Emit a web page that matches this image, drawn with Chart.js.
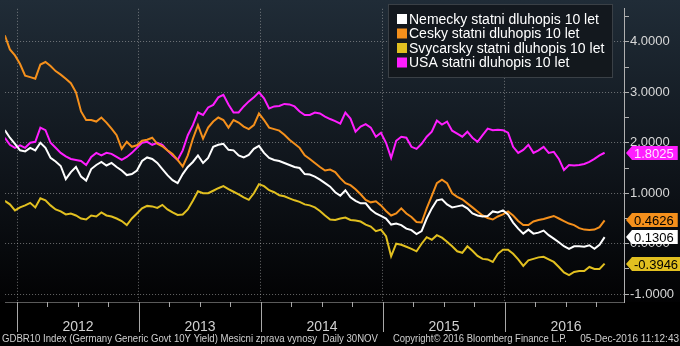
<!DOCTYPE html>
<html>
<head>
<meta charset="utf-8">
<script src="https://cdn.jsdelivr.net/npm/chart.js@4.4.0/dist/chart.umd.min.js"></script>
<style>
html, body { margin: 0; padding: 0; background: #000; }
</style>
</head>
<body>
<canvas id="yieldChart" width="680" height="346"></canvas>
<script>
// semimonthly samples, first one at mid Nov 2011
const startYear = 2011.9;
const stepYear = 1 / 24;

const yearLabels = ['2012', '2013', '2014', '2015', '2016'];
const quarterTicks = [2012, 2012.25, 2012.5, 2012.75, 2013, 2013.25, 2013.5, 2013.75,
    2014, 2014.25, 2014.5, 2014.75, 2015, 2015.25, 2015.5, 2015.75,
    2016, 2016.25, 2016.5, 2016.75];
const yTicks = [-1, -0.5, 0, 0.5, 1, 1.5, 2, 2.5, 3, 3.5, 4, 4.5];

const nemecky = [2.25, 2.10, 1.98, 1.85, 1.83, 1.90, 1.85, 2.00, 1.90, 1.70,
    1.63, 1.54, 1.28, 1.42, 1.52, 1.33, 1.25, 1.48, 1.56, 1.62,
    1.55, 1.60, 1.52, 1.45, 1.36, 1.38, 1.45, 1.64, 1.71, 1.68,
    1.60, 1.48, 1.36, 1.26, 1.20, 1.38, 1.52, 1.62, 1.75, 1.60,
    1.70, 1.92, 1.96, 1.98, 1.86, 1.85, 1.75, 1.71, 1.76, 1.88,
    1.94, 1.80, 1.70, 1.66, 1.64, 1.60, 1.56, 1.52, 1.50, 1.38,
    1.37, 1.33, 1.27, 1.20, 1.13, 1.02, 0.95, 1.06, 0.92, 0.85,
    0.80, 0.80, 0.68, 0.60, 0.55, 0.50, 0.38, 0.40, 0.37, 0.30,
    0.27, 0.19, 0.25, 0.50, 0.70, 0.86, 0.88, 0.78, 0.72, 0.74,
    0.76, 0.70, 0.60, 0.56, 0.54, 0.55, 0.64, 0.62, 0.66, 0.58,
    0.42, 0.30, 0.20, 0.28, 0.20, 0.22, 0.26, 0.17, 0.10, 0.03,
    -0.05, -0.10, -0.05, -0.05, -0.06, -0.03, -0.10, -0.02, 0.1306];

const cesky = [4.13, 3.85, 3.73, 3.56, 3.33, 3.30, 3.27, 3.55, 3.60, 3.52,
    3.42, 3.35, 3.27, 3.18, 3.00, 2.62, 2.45, 2.45, 2.42, 2.50,
    2.40, 2.28, 2.15, 1.88, 2.02, 1.92, 1.95, 2.04, 2.06, 2.10,
    1.98, 1.93, 1.85, 1.78, 1.66, 1.53, 1.75, 2.08, 2.35, 2.08,
    2.30, 2.42, 2.50, 2.45, 2.30, 2.45, 2.40, 2.32, 2.27, 2.35,
    2.58, 2.45, 2.30, 2.27, 2.24, 2.16, 2.06, 1.98, 1.90, 1.75,
    1.68, 1.60, 1.52, 1.45, 1.47, 1.42, 1.30, 1.20, 1.16, 1.08,
    0.98, 0.87, 0.82, 0.84, 0.76, 0.65, 0.56, 0.60, 0.70, 0.60,
    0.53, 0.43, 0.42, 0.70, 0.95, 1.20, 1.27, 1.20, 1.00, 0.93,
    0.88, 0.80, 0.72, 0.64, 0.56, 0.51, 0.48, 0.54, 0.58, 0.64,
    0.56, 0.45, 0.37, 0.37, 0.44, 0.47, 0.49, 0.52, 0.55, 0.50,
    0.45, 0.40, 0.37, 0.31, 0.28, 0.27, 0.28, 0.33, 0.4626];

const svycarsky = [0.85, 0.78, 0.66, 0.72, 0.76, 0.81, 0.72, 0.90, 0.86, 0.76,
    0.68, 0.64, 0.58, 0.60, 0.56, 0.50, 0.48, 0.56, 0.54, 0.62,
    0.56, 0.54, 0.50, 0.45, 0.37, 0.50, 0.60, 0.70, 0.75, 0.74,
    0.71, 0.77, 0.68, 0.62, 0.57, 0.58, 0.68, 0.85, 1.04, 1.00,
    1.00, 1.05, 1.10, 1.14, 1.08, 1.03, 0.98, 0.92, 0.87, 1.00,
    1.18, 1.14, 1.06, 1.02, 0.96, 0.94, 0.90, 0.86, 0.83, 0.78,
    0.76, 0.72, 0.65, 0.56, 0.48, 0.47, 0.50, 0.52, 0.47, 0.46,
    0.44, 0.38, 0.34, 0.25, 0.28, 0.15, -0.25, 0.00, -0.02, -0.06,
    -0.10, -0.15, 0.00, 0.13, 0.08, 0.17, 0.12, 0.04, -0.05, -0.15,
    -0.18, -0.05, -0.14, -0.24, -0.30, -0.31, -0.36, -0.20, -0.12, -0.12,
    -0.20, -0.31, -0.44, -0.33, -0.30, -0.27, -0.26, -0.31, -0.36, -0.46,
    -0.57, -0.62, -0.56, -0.54, -0.54, -0.46, -0.50, -0.50, -0.3946];

const usa = [2.10, 1.96, 1.90, 1.95, 1.90, 2.00, 2.02, 2.30, 2.25, 2.00,
    1.90, 1.80, 1.73, 1.68, 1.66, 1.64, 1.56, 1.72, 1.80, 1.75,
    1.80, 1.78, 1.72, 1.66, 1.72, 1.80, 1.90, 2.00, 2.02, 1.96,
    2.00, 1.96, 1.85, 1.75, 1.66, 1.85, 2.15, 2.35, 2.60, 2.55,
    2.70, 2.75, 2.90, 2.95, 2.76, 2.60, 2.60, 2.72, 2.82, 2.90,
    3.00, 2.88, 2.68, 2.72, 2.73, 2.77, 2.76, 2.72, 2.62, 2.55,
    2.55, 2.60, 2.58, 2.52, 2.47, 2.43, 2.38, 2.60, 2.48, 2.22,
    2.32, 2.37, 2.30, 2.12, 2.20, 2.00, 1.70, 2.04, 2.12, 2.10,
    1.92, 1.88, 1.98, 2.12, 2.22, 2.44, 2.36, 2.42, 2.24, 2.18,
    2.12, 2.22, 2.10, 2.02, 2.15, 2.28, 2.25, 2.26, 2.25, 2.20,
    1.92, 1.80, 1.86, 1.96, 1.80, 1.85, 1.92, 1.80, 1.82, 1.68,
    1.46, 1.56, 1.55, 1.56, 1.58, 1.62, 1.68, 1.75, 1.8025];

const seriesNames = ['Nemecky statni dluhopis 10 let', 'Cesky statni dluhopis 10 let',
    'Svycarsky statni dluhopis 10 let', 'USA statni dluhopis 10 let'];
const seriesColors = ['#ffffff', '#f5901c', '#e2c020', '#ff1eff'];
const tagTextColors = ['#000000', '#000000', '#000000', '#ffe6ff'];

const footLeft = 'GDBR10 Index (Germany Generic Govt 10Y Yield) Mesicni zprava vynosy  Daily 30NOV';
const footMid = 'Copyright\u00a9 2016 Bloomberg Finance L.P.';
const footRight = '05-Dec-2016 11:12:43';

const FONT = '"Liberation Sans", Arial, sans-serif';
const dates = nemecky.map((_, i) => startYear + i * stepYear);
const toPoints = arr => arr.map((v, i) => ({x: dates[i], y: v}));

const bgPlugin = {
    id: 'bg',
    beforeDraw(chart) {
        const {ctx, width, height, chartArea} = chart;
        ctx.save();
        ctx.fillStyle = '#000';
        ctx.fillRect(0, 0, width, height);
        const g = ctx.createLinearGradient(0, 0, 0, chartArea.bottom);
        g.addColorStop(0, '#202c37');
        g.addColorStop(0.5, '#11171e');
        g.addColorStop(1, '#020203');
        ctx.fillStyle = g;
        ctx.fillRect(0, 0, width, chartArea.bottom);
        ctx.restore();
    }
};

const decoPlugin = {
    id: 'deco',
    afterDraw(chart) {
        const {ctx, chartArea} = chart;
        const xs = chart.scales.x, ys = chart.scales.y;
        ctx.save();

        // year separators and quarter ticks under the plot
        ctx.strokeStyle = '#a8a8a8';
        ctx.lineWidth = 1;
        quarterTicks.forEach(v => {
            const px = Math.round(xs.getPixelForValue(v)) + 0.5;
            ctx.beginPath();
            ctx.moveTo(px, chartArea.bottom);
            ctx.lineTo(px, chartArea.bottom + (Number.isInteger(v) ? 30 : 5));
            ctx.stroke();
        });

        // legend box
        ctx.fillStyle = 'rgba(19,24,29,0.96)';
        ctx.fillRect(388, 4, 224, 73);
        ctx.strokeStyle = '#3a4046';
        ctx.strokeRect(388.5, 4.5, 224, 73);
        ctx.font = '14px ' + FONT;
        ctx.textBaseline = 'middle';
        seriesNames.forEach((name, i) => {
            const y = 19 + i * 14.5;
            ctx.fillStyle = seriesColors[i];
            ctx.fillRect(397, y - 5, 10, 10);
            ctx.fillStyle = '#ffffff';
            ctx.fillText(name, 409, y + 1);
        });

        // last value tags on the right axis
        ctx.font = '13px ' + FONT;
        chart.data.datasets.forEach((ds, i) => {
            const v = ds.data[ds.data.length - 1].y;
            const y = Math.round(ys.getPixelForValue(v));
            const text = v.toFixed(4);
            const w = ctx.measureText(text).width;
            const right = Math.min(680, 634 + w + 4);
            ctx.beginPath();
            ctx.moveTo(626, y);
            ctx.lineTo(632, y - 7);
            ctx.lineTo(right, y - 7);
            ctx.lineTo(right, y + 7);
            ctx.lineTo(632, y + 7);
            ctx.closePath();
            ctx.fillStyle = seriesColors[i];
            ctx.fill();
            ctx.fillStyle = tagTextColors[i];
            ctx.fillText(text, 634, y + 1);
        });

        // footer
        ctx.font = '10px ' + FONT;
        ctx.fillStyle = '#cfcfcf';
        ctx.fillText(footLeft, 2, 339, 376);
        ctx.fillText(footMid, 393, 339, 174);
        ctx.textAlign = 'right';
        ctx.fillText(footRight, 679, 339);
        ctx.restore();
    }
};

new Chart(document.getElementById('yieldChart'), {
    type: 'line',
    data: {
        datasets: seriesNames.map((name, i) => ({
            label: name,
            data: toPoints([nemecky, cesky, svycarsky, usa][i]),
            borderColor: seriesColors[i],
            borderWidth: 2,
            pointRadius: 0,
            tension: 0,
        })),
    },
    options: {
        responsive: false,
        animation: false,
        events: [],
        layout: {padding: 0},
        plugins: {
            legend: {display: false},
            tooltip: {enabled: false},
        },
        scales: {
            x: {
                type: 'linear',
                min: 2011.9024,
                max: 2016.9756,
                afterBuildTicks: s => { s.ticks = quarterTicks.map(v => ({value: v})); },
                afterFit: s => { s.height = 44; },
                grid: {
                    drawTicks: false,
                    color: c => Number.isInteger(c.tick.value) ? 'rgba(185,185,185,0.55)' : 'rgba(0,0,0,0)',
                },
                border: {display: true, color: '#5a5a5a', dash: [1, 2]},
                ticks: {
                    autoSkip: false,
                    maxRotation: 0,
                    padding: 17,
                    color: '#d0d0d0',
                    font: {family: FONT, size: 14},
                    callback: v => (v % 1 === 0.5) ? yearLabels[Math.floor(v) - 2012] : '',
                },
            },
            y: {
                type: 'linear',
                position: 'right',
                min: -1.154,
                max: 4.654,
                afterBuildTicks: s => { s.ticks = yTicks.map(v => ({value: v})); },
                afterFit: s => { s.width = 56; },
                grid: {
                    color: c => Number.isInteger(c.tick.value) ? 'rgba(185,185,185,0.55)' : 'rgba(0,0,0,0)',
                    tickColor: '#b0b0b0',
                    tickLength: 5,
                },
                border: {display: true, color: '#b0b0b0', dash: [1, 2]},
                ticks: {
                    padding: 1,
                    color: '#d8d8d8',
                    font: {family: FONT, size: 13},
                    callback: v => Number.isInteger(v) ? v.toFixed(4) : '',
                },
            },
        },
    },
    plugins: [bgPlugin, decoPlugin],
});
</script>
</body>
</html>
